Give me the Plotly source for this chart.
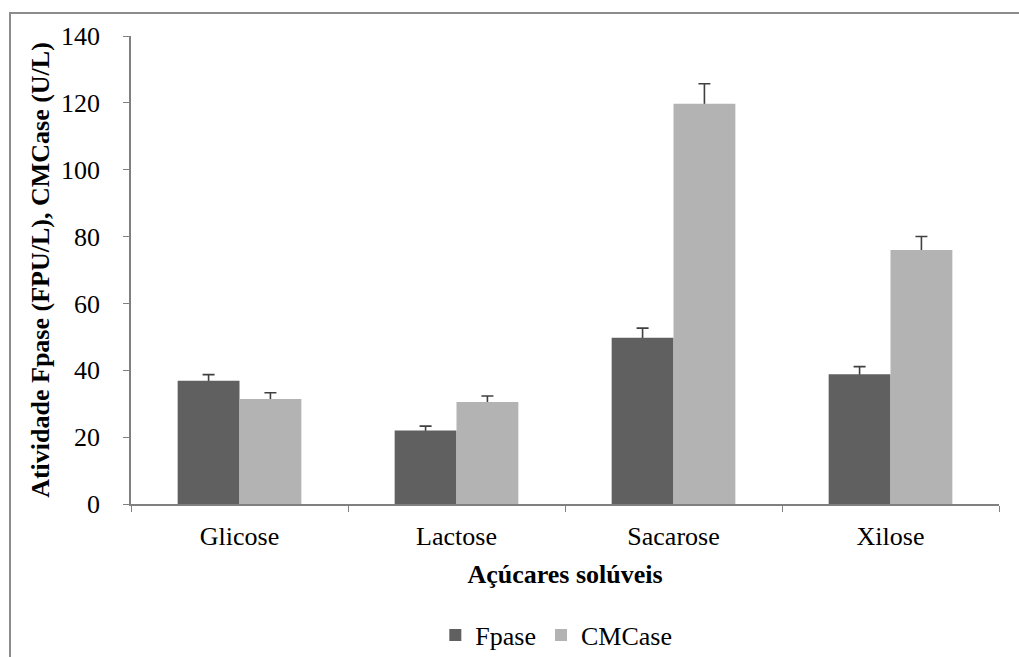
import plotly.graph_objects as go

categories = ["Glicose", "Lactose", "Sacarose", "Xilose"]
fpase = [36.9, 22.0, 49.7, 38.8]
fpase_err = [1.8, 1.3, 2.9, 2.3]
cmcase = [31.4, 30.5, 119.7, 76.0]
cmcase_err = [1.9, 1.8, 6.0, 4.0]
y_ticks = [0, 20, 40, 60, 80, 100, 120, 140]

W, H = 1019, 657
L, R, T, B = 131, 20, 36, 153
pw, ph = W - L - R, H - T - B

font = "Liberation Serif"
fs = 26
err_style = dict(color="#404040", thickness=1.6, width=6)

fig = go.Figure()
# error bars first (hidden bars), so the visible bars cover the lower cap
for name, vals, errs, grp in [("Fpase", fpase, fpase_err, "f"), ("CMCase", cmcase, cmcase_err, "c")]:
    fig.add_trace(go.Bar(
        name=name + " err", x=categories, y=vals, offsetgroup=grp, showlegend=False,
        marker=dict(color="rgba(0,0,0,0)", line=dict(width=0)), hoverinfo="skip",
        error_y=dict(type="data", array=errs, arrayminus=[1.0] * len(errs), symmetric=False, **err_style),
    ))
fig.add_trace(go.Bar(
    name="Fpase", x=categories, y=fpase, offsetgroup="f",
    marker=dict(color="#606060", line=dict(width=0)),
))
fig.add_trace(go.Bar(
    name="CMCase", x=categories, y=cmcase, offsetgroup="c",
    marker=dict(color="#b3b3b3", line=dict(width=0)),
))

fig.update_layout(
    width=W, height=H,
    margin=dict(l=L, r=R, t=T, b=B, autoexpand=False),
    paper_bgcolor="white", plot_bgcolor="white",
    barmode="group", bargap=0.43, bargroupgap=0,
    font=dict(family=font, size=fs, color="black"),
    showlegend=True,
    legend=dict(orientation="h", x=0.49, xanchor="center", y=-0.28, yanchor="middle",
                font=dict(size=fs, family=font), traceorder="normal", itemwidth=30),
    xaxis=dict(
        automargin=False,
        showline=True, linecolor="#808080", linewidth=1.5,
        ticks="outside", tickson="boundaries", ticklen=6, tickcolor="#808080",
        tickfont=dict(size=fs, family=font), ticklabelstandoff=8,
        title=dict(text="<b>Açúcares solúveis</b>", font=dict(size=fs, family=font), standoff=15),
    ),
    yaxis=dict(
        automargin=False,
        range=[0, 140], tickvals=y_ticks,
        showline=True, linecolor="#808080", linewidth=1.5,
        ticks="outside", ticklen=6, tickcolor="#808080",
        showgrid=False, zeroline=False,
        tickfont=dict(size=fs, family=font), ticklabelstandoff=18,
        title=dict(text="<b>Atividade Fpase (FPU/L), CMCase (U/L)</b>", font=dict(size=fs, family=font), standoff=4),
    ),
    shapes=[dict(
        type="rect", xref="paper", yref="paper",
        x0=(10 - L) / pw, x1=(W + 20 - L) / pw,
        y0=(H - B - (H + 20)) / ph, y1=(H - B - 13) / ph,
        line=dict(color="#8c8c8c", width=2), fillcolor="rgba(0,0,0,0)", layer="below",
    )],
)

fig.write_html("out.html", config={"displayModeBar": False},
               post_script="document.body.style.margin='0px';")
